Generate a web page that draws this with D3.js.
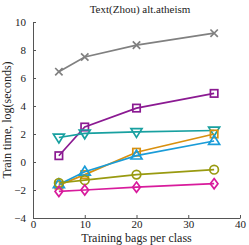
<!DOCTYPE html>
<meta charset="utf-8">
<script src="https://d3js.org/d3.v7.min.js"></script>
<style>
  body { margin: 0; background: #fff; }
</style>
<div id="chart"></div>
<script>

  // data
  var bags = [5, 10, 20, 35];
  var crossVals = [6.45, 7.5, 8.35, 9.2];
  var squarePurpleVals = [0.45, 2.5, 3.85, 4.9];
  var triDownVals = [1.75, 2.05, 2.15, 2.25];
  var squareOrangeVals = [-1.65, -0.9, 0.7, 2.0];
  var triUpVals = [-1.6, -0.7, 0.45, 1.5];
  var circleVals = [-1.5, -1.3, -0.9, -0.55];
  var diamondVals = [-2.1, -2.0, -1.8, -1.55];
  var xTicks = [0, 10, 20, 30, 40];
  var yTicks = [-4, -2, 0, 2, 4, 6, 8, 10];

  var series = [
    {vals: crossVals, color: "#808080", shape: "cross"},
    {vals: squarePurpleVals, color: "#8b1a92", shape: "square"},
    {vals: triDownVals, color: "#18a0a0", shape: "triDown"},
    {vals: squareOrangeVals, color: "#d8900f", shape: "square"},
    {vals: triUpVals, color: "#1a9cd8", shape: "triUp"},
    {vals: circleVals, color: "#999a10", shape: "circle"},
    {vals: diamondVals, color: "#d81b9c", shape: "diamond"}
  ];

  var FONT = "'Liberation Serif', 'DejaVu Serif', serif";
  var W = 249, H = 245;
  var svg = d3.select("#chart").append("svg")
    .attr("width", W).attr("height", H);

  var x = d3.scaleLinear().domain([0, 40]).range([33, 240]);
  var y = d3.scaleLinear().domain([-4, 10]).range([218, 22]);

  // axes
  var axisColor = "#555";
  var gx = svg.append("g").attr("transform", "translate(0," + y(-4) + ")")
    .call(d3.axisBottom(x).tickValues(xTicks).tickSize(-3).tickPadding(2).tickSizeOuter(0));
  var gy = svg.append("g").attr("transform", "translate(" + x(0) + ",0)")
    .call(d3.axisLeft(y).tickValues(yTicks).tickSize(-3).tickPadding(7).tickSizeOuter(0)
      .tickFormat(function(d) { return d < 0 ? "\u2212" + Math.abs(d) : d; }));
  [gx, gy].forEach(function(g) {
    g.attr("font-family", FONT).attr("font-size", 11);
    g.select(".domain").attr("stroke", axisColor);
    g.selectAll(".tick line").attr("stroke", axisColor);
    g.selectAll(".tick text").attr("fill", "#222");
  });

  // lines and markers
  var line = d3.line()
    .x(function(d, i) { return x(bags[i]); })
    .y(function(d) { return y(d); });

  var SW = 1.7;
  function marker(g, shape, color, cx, cy) {
    var s = 3.7;
    if (shape === "cross") {
      g.append("path").attr("d", "M" + (cx - s) + "," + (cy - s) + "L" + (cx + s) + "," + (cy + s) +
        "M" + (cx - s) + "," + (cy + s) + "L" + (cx + s) + "," + (cy - s))
        .attr("stroke", color).attr("stroke-width", SW).attr("fill", "none");
    } else if (shape === "square") {
      g.append("rect").attr("x", cx - s).attr("y", cy - s).attr("width", 2 * s).attr("height", 2 * s)
        .attr("stroke", color).attr("stroke-width", SW).attr("fill", "none");
    } else if (shape === "circle") {
      g.append("circle").attr("cx", cx).attr("cy", cy).attr("r", s + 0.6)
        .attr("stroke", color).attr("stroke-width", SW).attr("fill", "none");
    } else if (shape === "diamond") {
      var d = s + 1.4;
      g.append("path").attr("d", "M" + cx + "," + (cy - d) + "L" + (cx + d * 0.75) + "," + cy + "L" + cx + "," + (cy + d) + "L" + (cx - d * 0.75) + "," + cy + "Z")
        .attr("stroke", color).attr("stroke-width", SW).attr("fill", "none");
    } else {
      var t = s + 1.8, dir = shape === "triUp" ? 1 : -1;
      g.append("path").attr("d", "M" + cx + "," + (cy - dir * t) + "L" + (cx + t) + "," + (cy + dir * t * 0.6) + "L" + (cx - t) + "," + (cy + dir * t * 0.6) + "Z")
        .attr("stroke", color).attr("stroke-width", SW).attr("fill", "none");
    }
  }

  series.forEach(function(s) {
    var g = svg.append("g");
    g.append("path").datum(s.vals).attr("d", line)
      .attr("fill", "none").attr("stroke", s.color).attr("stroke-width", SW);
    s.vals.forEach(function(v, i) { marker(g, s.shape, s.color, x(bags[i]), y(v)); });
  });

  // text
  svg.append("text").attr("x", 140).attr("y", 13).attr("text-anchor", "middle")
    .attr("font-family", FONT).attr("font-size", 11).attr("fill", "#222")
    .text("Text(Zhou) alt.atheism");
  svg.append("text").attr("x", x(20)).attr("y", 242).attr("text-anchor", "middle")
    .attr("font-family", FONT).attr("font-size", 12).attr("fill", "#222")
    .text("Training bags per class");
  svg.append("text").attr("transform", "translate(11," + y(3) + ") rotate(-90)")
    .attr("text-anchor", "middle").attr("font-family", FONT).attr("font-size", 12).attr("fill", "#222")
    .text("Train time, log(seconds)");

</script>
